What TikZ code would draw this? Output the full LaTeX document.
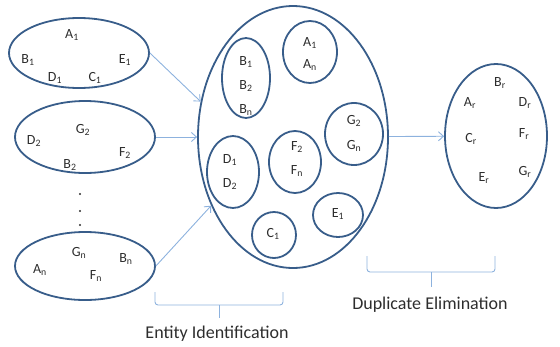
\documentclass[tikz,border=0pt]{standalone}
\usepackage{fontspec}
\setmainfont{Carlito}
\usetikzlibrary{shapes.geometric,arrows.meta}
\definecolor{rim}{RGB}{56,93,138}
\definecolor{link}{RGB}{141,178,222}
\definecolor{ink}{RGB}{45,45,45}
\newcommand{\ent}[2]{#1\textsubscript{#2}}

\begin{document}
\begin{tikzpicture}[x=1pt,y=-1pt,
  set/.style={draw=rim, line width=1.8pt, ellipse, inner sep=0pt},
  lbl/.style={text=ink, font=\fontsize{14}{14}\selectfont, inner sep=0pt},
  arr/.style={draw=link, line width=0.9pt, -{Straight Barb[length=5pt,width=9pt]}},
  brace/.style={draw=link, line width=0.9pt, rounded corners=3pt},
  stagecaption/.style={text=ink, font=\fontsize{18}{18}\selectfont, inner sep=0pt},
  pt/.style={circle, fill=ink, inner sep=0pt, minimum size=2.4pt}]
\useasboundingbox (0,0) rectangle (560,346);

% ---- source sets ----
\node[set, minimum width=140, minimum height=70] (s1) at (79,53) {};
\node[lbl] (a1) at (72,35) {\ent{A}{1}};
\node[lbl] (b1) at (28,60) {\ent{B}{1}};
\node[lbl] (e1) at (125,60) {\ent{E}{1}};
\node[lbl] (d1) at (55,78) {\ent{D}{1}};
\node[lbl] (c1) at (95,78) {\ent{C}{1}};

\node[set, minimum width=140, minimum height=72] (s2) at (85,137) {};
\node[lbl] (g2) at (83,130) {\ent{G}{2}};
\node[lbl] (d2) at (34,141) {\ent{D}{2}};
\node[lbl] (f2) at (125,153) {\ent{F}{2}};
\node[lbl] (b2) at (70,165) {\ent{B}{2}};

\node[pt] (dot1) at (80,194) {};
\node[pt] (dot2) at (80,211) {};
\node[pt] (dot3) at (80,225) {};

\node[set, minimum width=140, minimum height=68] (s3) at (85,266) {};
\node[lbl] (gn) at (79,253) {\ent{G}{n}};
\node[lbl] (bn) at (126,259) {\ent{B}{n}};
\node[lbl] (an) at (40,270) {\ent{A}{n}};
\node[lbl] (fn) at (96,276) {\ent{F}{n}};

% ---- identified entities ----
\node[set, minimum width=190, minimum height=262] (big) at (293,137) {};

\node[set, minimum width=48, minimum height=80] (gb) at (246,78) {};
\node[lbl] (gb1) at (246,62) {\ent{B}{1}};
\node[lbl] (gb2) at (246,86) {\ent{B}{2}};
\node[lbl] (gbn) at (246,110) {\ent{B}{n}};

\node[set, minimum width=54, minimum height=62] (ga) at (310,52) {};
\node[lbl] (ga1) at (310,43) {\ent{A}{1}};
\node[lbl] (gan) at (310,65) {\ent{A}{n}};

\node[set, minimum width=58, minimum height=62] (gg) at (354,134) {};
\node[lbl] (gg2) at (354,121) {\ent{G}{2}};
\node[lbl] (ggn) at (354,146) {\ent{G}{n}};

\node[set, minimum width=52, minimum height=72] (gd) at (233,172) {};
\node[lbl] (gd1) at (230,160) {\ent{D}{1}};
\node[lbl] (gd2) at (230,184) {\ent{D}{2}};

\node[set, minimum width=52, minimum height=62] (gf) at (295,162) {};
\node[lbl] (gf2) at (297,147) {\ent{F}{2}};
\node[lbl] (gfn) at (297,171) {\ent{F}{n}};

\node[set, minimum width=44, minimum height=46] (gc) at (274,235) {};
\node[lbl] (gc1) at (273,234) {\ent{C}{1}};

\node[set, minimum width=50, minimum height=44] (ge) at (338,215) {};
\node[lbl] (ge1) at (338,214) {\ent{E}{1}};

% ---- resolved entities ----
\node[set, minimum width=102, minimum height=144] (res) at (496,136) {};
\node[lbl] (br) at (500,83) {\ent{B}{r}};
\node[lbl] (ar) at (470,103) {\ent{A}{r}};
\node[lbl] (dr) at (525,103) {\ent{D}{r}};
\node[lbl] (fr) at (524,134) {\ent{F}{r}};
\node[lbl] (cr) at (471,139) {\ent{C}{r}};
\node[lbl] (gr) at (525,172) {\ent{G}{r}};
\node[lbl] (er) at (484,178) {\ent{E}{r}};

% ---- flows ----
\draw[arr] (s1.east) -- (big.159);
\draw[arr] (s2) -- (big);
\draw[arr] (s3.east) -- (big.220);
\draw[arr] (big) -- (res);

% ---- stage brackets ----
\draw[brace] (155,292) |- (219,305) -| (283,292);
\draw[brace] (219,305) -- (219,318);
\node[stagecaption] (entid) at (217,334) {Entity Identification};

\draw[brace] (367,256) |- (431,272) -| (495,256);
\draw[brace] (431,272) -- (431,287);
\node[stagecaption] (dupel) at (430,305) {Duplicate Elimination};
\end{tikzpicture}
\end{document}
